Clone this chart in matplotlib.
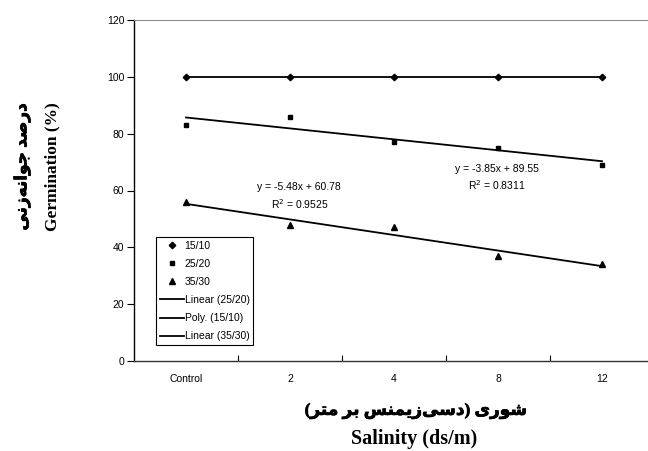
import numpy as np
import matplotlib.pyplot as plt
import matplotlib.patheffects as pe
from matplotlib.lines import Line2D

# chart data
categories = ["Control", "2", "4", "8", "12"]
germ_15_10 = [100, 100, 100, 100, 100]
germ_25_20 = [83, 86, 77, 75, 69]
germ_35_30 = [56, 48, 47, 37, 34]
# Excel trendlines (x = 1..5)
fit_25_20 = (-3.85, 89.55)
fit_35_30 = (-5.48, 60.78)
eq_25_20 = ["y = -3.85x + 89.55", r"R$^2$ = 0.8311"]
eq_35_30 = ["y = -5.48x + 60.78", r"R$^2$ = 0.9525"]

ylabel_fa = "درصد جوانه\u200cزنی"
xlabel_fa = "شوری (دسی\u200cزیمنس بر متر)"

# matplotlib does no arabic shaping, so pick presentation forms by hand
# isolated, final, initial, medial
forms = {
    "ا": ("\uFE8D", "\uFE8E", None, None),
    "ب": ("\uFE8F", "\uFE90", "\uFE91", "\uFE92"),
    "ت": ("\uFE95", "\uFE96", "\uFE97", "\uFE98"),
    "ج": ("\uFE9D", "\uFE9E", "\uFE9F", "\uFEA0"),
    "د": ("\uFEA9", "\uFEAA", None, None),
    "ر": ("\uFEAD", "\uFEAE", None, None),
    "ز": ("\uFEAF", "\uFEB0", None, None),
    "س": ("\uFEB1", "\uFEB2", "\uFEB3", "\uFEB4"),
    "ش": ("\uFEB5", "\uFEB6", "\uFEB7", "\uFEB8"),
    "ص": ("\uFEB9", "\uFEBA", "\uFEBB", "\uFEBC"),
    "م": ("\uFEE1", "\uFEE2", "\uFEE3", "\uFEE4"),
    "ن": ("\uFEE5", "\uFEE6", "\uFEE7", "\uFEE8"),
    "ه": ("\uFEE9", "\uFEEA", "\uFEEB", "\uFEEC"),
    "و": ("\uFEED", "\uFEEE", None, None),
    "ی": ("\uFEEF", "\uFEF0", "\uFEF3", "\uFEF4"),
}

def shape_fa(s):
    out = []
    for i, c in enumerate(s):
        if c not in forms:
            if c != "\u200c":
                out.append(c)
            continue
        prev = s[i-1] if i > 0 else ""
        nxt = s[i+1] if i < len(s)-1 else ""
        join_prev = prev in forms and forms[prev][2] is not None
        join_next = nxt in forms and forms[c][2] is not None
        if join_prev and join_next:
            out.append(forms[c][3])
        elif join_prev:
            out.append(forms[c][1])
        elif join_next:
            out.append(forms[c][2])
        else:
            out.append(forms[c][0])
    vis = "".join(out)[::-1]
    return vis.translate(str.maketrans("()", ")("))

plt.rcParams["font.family"] = ["Liberation Sans", "DejaVu Sans"]
plt.rcParams["font.size"] = 7.5

W, H = 648, 451
fig = plt.figure(figsize=(W/100, H/100), dpi=100)
ax = fig.add_axes([134/W, (H-361)/H, (654-134)/W, (361-20)/H])

x = np.arange(len(categories))
xf = x + 1

# trendlines
ax.plot(x, germ_15_10, color="black", lw=1.3, zorder=2)
ax.plot(x, fit_25_20[0]*xf + fit_25_20[1], color="black", lw=1.3, zorder=2)
ax.plot(x, fit_35_30[0]*xf + fit_35_30[1], color="black", lw=1.3, zorder=2)

ax.plot(x, germ_15_10, ls="none", marker="D", ms=3.3, color="black", zorder=3)
ax.plot(x, germ_25_20, ls="none", marker="s", ms=3.5, color="black", zorder=3)
ax.plot(x, germ_35_30, ls="none", marker="^", ms=4.5, color="black", zorder=3)

ax.text(2.99, 67.6, eq_25_20[0], ha="center", va="center", fontsize=7.5)
ax.text(2.99, 61.8, eq_25_20[1], ha="center", va="center", fontsize=7.5)
ax.text(1.09, 61.2, eq_35_30[0], ha="center", va="center", fontsize=7.5)
ax.text(1.09, 55.2, eq_35_30[1], ha="center", va="center", fontsize=7.5)

ax.set_xlim(-0.5, 4.5)
ax.set_ylim(0, 120)
ax.set_yticks(range(0, 121, 20))
ax.set_xticks(np.arange(0.5, 4, 1))
ax.set_xticklabels([])
ax.set_xticks(x, minor=True)
ax.set_xticklabels(categories, minor=True)
ax.tick_params(axis="x", which="major", direction="in", length=4, width=0.8)
ax.tick_params(axis="x", which="minor", length=0, pad=9)
ax.tick_params(axis="y", direction="out", length=5, width=0.8, pad=2)

ax.spines["right"].set_visible(False)
ax.spines["top"].set_color("#8c8c8c")
ax.spines["left"].set_linewidth(1.0)
ax.spines["bottom"].set_linewidth(1.0)
ax.spines["bottom"].set_color("#333333")

handles = [
    Line2D([], [], ls="none", marker="D", ms=3.3, color="black"),
    Line2D([], [], ls="none", marker="s", ms=3.5, color="black"),
    Line2D([], [], ls="none", marker="^", ms=4.5, color="black"),
    Line2D([], [], color="black", lw=1.3),
    Line2D([], [], color="black", lw=1.3),
    Line2D([], [], color="black", lw=1.3),
]
labels = ["15/10", "25/20", "35/30", "Linear (25/20)", "Poly. (15/10)", "Linear (35/30)"]
leg = ax.legend(handles, labels, loc="upper left", bbox_to_anchor=(22/520, (361-237)/341),
                fancybox=False, edgecolor="black", framealpha=1, fontsize=7.5,
                handlelength=2.3, handletextpad=0.1, labelspacing=0.78,
                borderpad=0.35, borderaxespad=0)
leg.get_frame().set_linewidth(0.8)

bold_fa = ["Liberation Serif", "DejaVu Sans"]
thick = [pe.withStroke(linewidth=0.5, foreground="black")]
fig.text(22/W, 1 - 167/H, shape_fa(ylabel_fa), rotation=90, ha="center", va="center",
         fontsize=12.2, fontweight="bold", family=bold_fa, path_effects=thick)
fig.text(52/W, 1 - 167/H, "Germination (%)", rotation=90, ha="center", va="center",
         fontsize=12.5, fontweight="bold", family="Liberation Serif")
fig.text(416/W, 1 - 411/H, shape_fa(xlabel_fa), ha="center", va="center",
         fontsize=12.2, fontweight="bold", family=bold_fa, path_effects=thick)
fig.text(414/W, 1 - 439/H, "Salinity (ds/m)", ha="center", va="center",
         fontsize=14.5, fontweight="bold", family="Liberation Serif")

fig.savefig("out.png", dpi=100)
